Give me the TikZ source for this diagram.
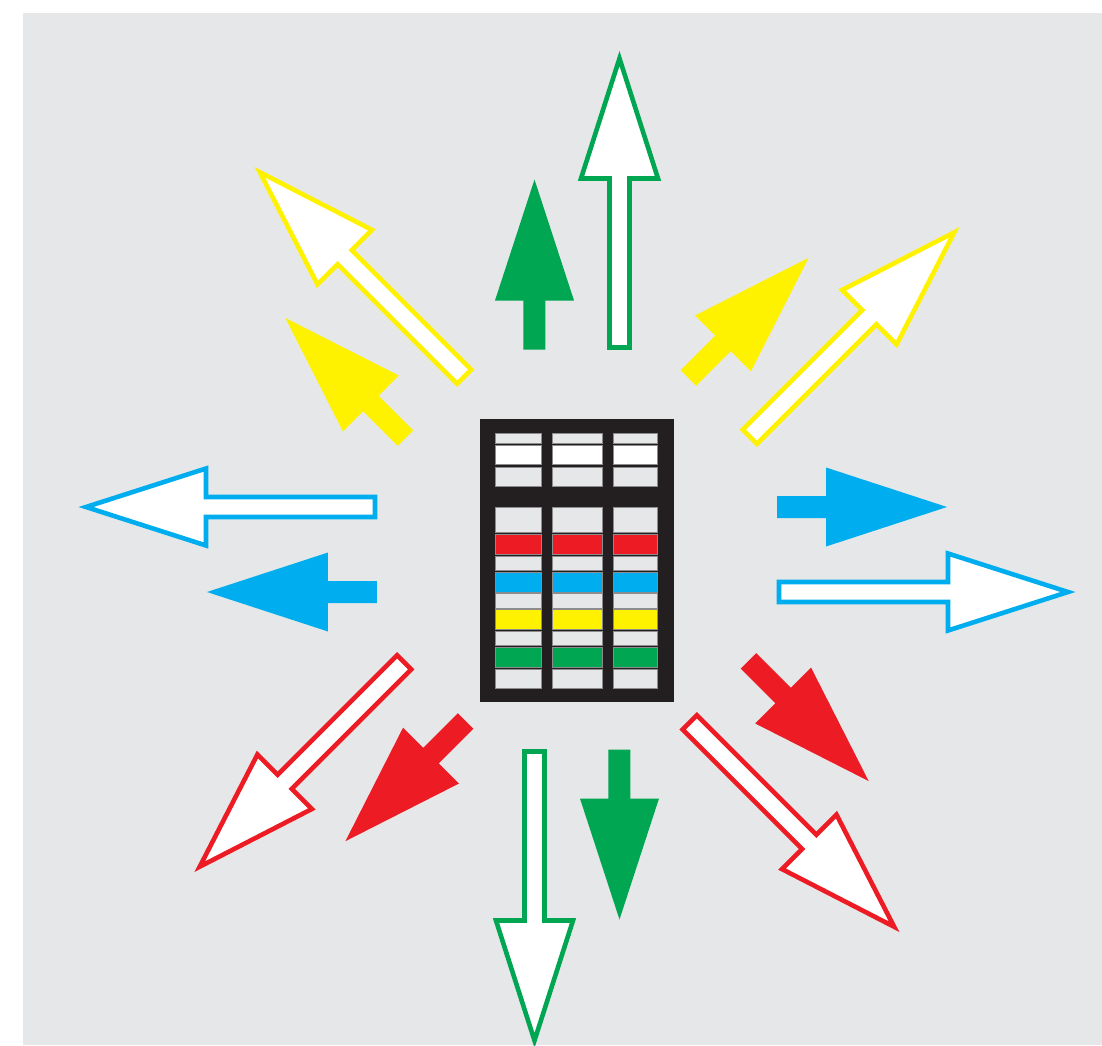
\documentclass[tikz,border=0pt]{standalone}
\definecolor{bggray}{HTML}{E6E7E8}
\definecolor{rackblack}{HTML}{231F20}
\definecolor{arrgreen}{HTML}{00A651}
\definecolor{arrcyan}{HTML}{00AEEF}
\definecolor{arryellow}{HTML}{FFF200}
\definecolor{arrred}{HTML}{ED1C24}

\begin{document}
\begin{tikzpicture}[x=0.25mm,y=0.25mm,
  solidarrow/.style={fill=#1},
  hollowarrow/.style={draw=#1,fill=white,line width=1.15mm},
  cell/.style={fill=#1,draw=black!45,line width=0.25mm}]
\useasboundingbox (-577,549.5) rectangle (525,-495.5);
\fill[bggray] (-554,536.5) rectangle (525,-495.5);
% short solid arrows, left of their direction
\fill[solidarrow=arrcyan,rotate=0] (200,31.5) -- (249,31.5) -- (249,3) -- (370,42.5) -- (249,82) -- (249,53.5) -- (200,53.5) -- cycle;
\fill[solidarrow=arryellow,rotate=45] (200,31.5) -- (249,31.5) -- (249,3) -- (370,42.5) -- (249,82) -- (249,53.5) -- (200,53.5) -- cycle;
\fill[solidarrow=arrgreen,rotate=90] (200,31.5) -- (249,31.5) -- (249,3) -- (370,42.5) -- (249,82) -- (249,53.5) -- (200,53.5) -- cycle;
\fill[solidarrow=arryellow,rotate=135] (200,31.5) -- (249,31.5) -- (249,3) -- (370,42.5) -- (249,82) -- (249,53.5) -- (200,53.5) -- cycle;
\fill[solidarrow=arrcyan,rotate=180] (200,31.5) -- (249,31.5) -- (249,3) -- (370,42.5) -- (249,82) -- (249,53.5) -- (200,53.5) -- cycle;
\fill[solidarrow=arrred,rotate=225] (200,31.5) -- (249,31.5) -- (249,3) -- (370,42.5) -- (249,82) -- (249,53.5) -- (200,53.5) -- cycle;
\fill[solidarrow=arrgreen,rotate=270] (200,31.5) -- (249,31.5) -- (249,3) -- (370,42.5) -- (249,82) -- (249,53.5) -- (200,53.5) -- cycle;
\fill[solidarrow=arrred,rotate=315] (200,31.5) -- (249,31.5) -- (249,3) -- (370,42.5) -- (249,82) -- (249,53.5) -- (200,53.5) -- cycle;
% long hollow arrows, right of their direction
\draw[hollowarrow=arrcyan,rotate=0] (202,-52.5) -- (371,-52.5) -- (371,-81) -- (491,-42.5) -- (371,-4) -- (371,-32.5) -- (202,-32.5) -- cycle;
\draw[hollowarrow=arryellow,rotate=45] (202,-52.5) -- (371,-52.5) -- (371,-81) -- (491,-42.5) -- (371,-4) -- (371,-32.5) -- (202,-32.5) -- cycle;
\draw[hollowarrow=arrgreen,rotate=90] (202,-52.5) -- (371,-52.5) -- (371,-81) -- (491,-42.5) -- (371,-4) -- (371,-32.5) -- (202,-32.5) -- cycle;
\draw[hollowarrow=arryellow,rotate=135] (202,-52.5) -- (371,-52.5) -- (371,-81) -- (491,-42.5) -- (371,-4) -- (371,-32.5) -- (202,-32.5) -- cycle;
\draw[hollowarrow=arrcyan,rotate=180] (202,-52.5) -- (371,-52.5) -- (371,-81) -- (491,-42.5) -- (371,-4) -- (371,-32.5) -- (202,-32.5) -- cycle;
\draw[hollowarrow=arrred,rotate=225] (202,-52.5) -- (371,-52.5) -- (371,-81) -- (491,-42.5) -- (371,-4) -- (371,-32.5) -- (202,-32.5) -- cycle;
\draw[hollowarrow=arrgreen,rotate=270] (202,-52.5) -- (371,-52.5) -- (371,-81) -- (491,-42.5) -- (371,-4) -- (371,-32.5) -- (202,-32.5) -- cycle;
\draw[hollowarrow=arrred,rotate=315] (202,-52.5) -- (371,-52.5) -- (371,-81) -- (491,-42.5) -- (371,-4) -- (371,-32.5) -- (202,-32.5) -- cycle;
% rack in the middle
\fill[rackblack] (-97,130.5) rectangle (97,-152.5);
\foreach \xa/\xb in {-81/-35,-24/26,37/81} {
  \filldraw[cell=bggray] (\xa,116.5) rectangle (\xb,106.5);
  \filldraw[cell=white] (\xa,104.5) rectangle (\xb,85.5);
  \filldraw[cell=bggray] (\xa,82.5) rectangle (\xb,63.5);
  \filldraw[cell=bggray] (\xa,42.5) rectangle (\xb,17.5);
  \filldraw[cell=arrred] (\xa,15.5) rectangle (\xb,-4.5);
  \filldraw[cell=bggray] (\xa,-6.5) rectangle (\xb,-20.5);
  \filldraw[cell=arrcyan] (\xa,-22.5) rectangle (\xb,-42.5);
  \filldraw[cell=bggray] (\xa,-43.5) rectangle (\xb,-58.5);
  \filldraw[cell=arryellow] (\xa,-59.5) rectangle (\xb,-79.5);
  \filldraw[cell=bggray] (\xa,-81.5) rectangle (\xb,-95.5);
  \filldraw[cell=arrgreen] (\xa,-97.5) rectangle (\xb,-117.5);
  \filldraw[cell=bggray] (\xa,-119.5) rectangle (\xb,-138.5);
}
\end{tikzpicture}
\end{document}
